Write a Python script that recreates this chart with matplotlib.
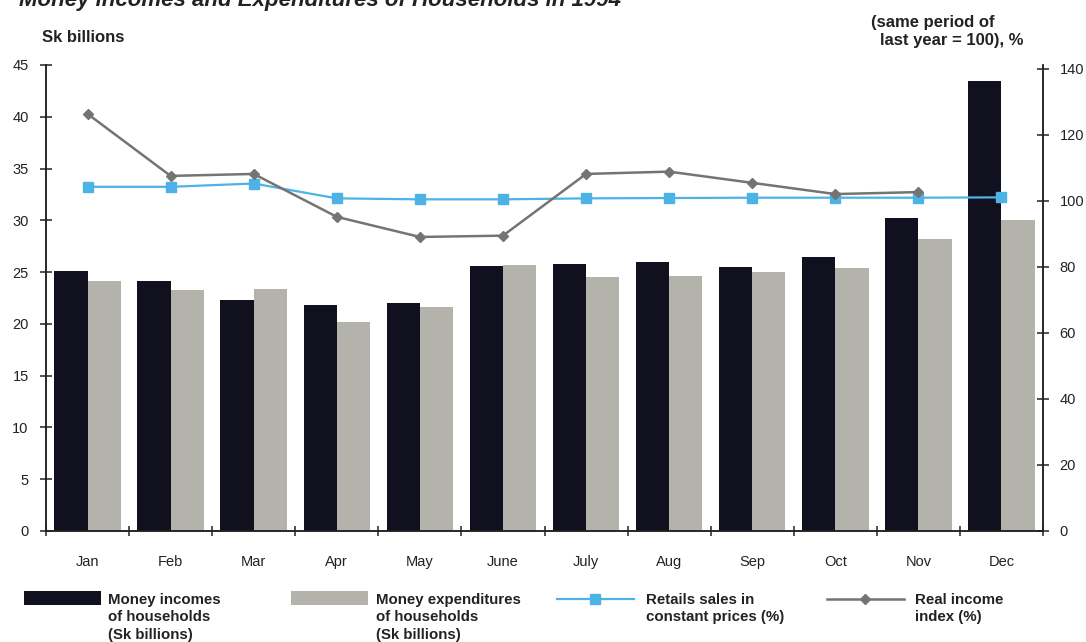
import numpy as np
import matplotlib.pyplot as plt
from matplotlib.patches import Patch, Rectangle
from matplotlib.lines import Line2D
from matplotlib.legend_handler import HandlerPatch

plt.rcParams['font.family'] = ['Liberation Sans', 'DejaVu Sans']

months = ['Jan', 'Feb', 'Mar', 'Apr', 'May', 'June', 'July', 'Aug', 'Sep', 'Oct', 'Nov', 'Dec']
incomes = [25.1, 24.1, 22.3, 21.8, 22.0, 25.6, 25.8, 26.0, 25.5, 26.5, 30.2, 43.5]
expenditures = [24.1, 23.3, 23.4, 20.2, 21.6, 25.7, 24.5, 24.6, 25.0, 25.4, 28.2, 30.0]
retail_sales = [104.3, 104.3, 105.3, 100.8, 100.5, 100.5, 100.8, 100.9, 101.0, 101.0, 101.0, 101.1]
real_income = [126.4, 107.6, 108.2, 95.2, 89.1, 89.5, 108.2, 108.9, 105.5, 102.1, 102.7]

dark = '#10101e'
grey = '#b3b3ab'
blue = '#4db3e6'
lgrey = '#747470'
ink = '#222222'

W, H = 1086, 642
fig = plt.figure(figsize=(W / 100, H / 100), dpi=100)
ax = fig.add_axes([46 / W, 1 - 531 / H, (1043 - 46) / W, (531 - 65) / H])
ax2 = ax.twinx()

x = np.arange(len(months))
ax.bar(x - 0.2, incomes, 0.4, color=dark)
ax.bar(x + 0.2, expenditures, 0.4, color=grey)
ax.set_xlim(-0.5, 11.5)
ax.set_ylim(0, 45)
ax.set_yticks(range(0, 46, 5))

ax2.plot(x, retail_sales, color=blue, marker='s', ms=6.5, lw=1.6)
ax2.plot(x[:len(real_income)], real_income, color=lgrey, marker='D', ms=5, lw=1.8)
ax2.set_ylim(0, 140 * 466 / 462)
ax2.set_yticks(range(0, 141, 20))

for a in (ax, ax2):
    a.spines['top'].set_visible(False)
    for s in ('left', 'right', 'bottom'):
        a.spines[s].set_color(ink)
        a.spines[s].set_linewidth(1.1)

ax.set_xticks(np.arange(-0.5, 12, 1))
ax.set_xticklabels([])
ax.set_xticks(x, labels=months, minor=True)
ax.tick_params(axis='x', which='major', direction='inout', length=7, width=1.1, color=ink)
ax.tick_params(axis='x', which='minor', length=0, pad=17, labelsize=10.5, labelcolor=ink)
ax.tick_params(axis='y', direction='inout', length=9, width=1.1, color=ink, pad=8,
               labelsize=10.5, labelcolor=ink)
ax2.tick_params(axis='y', direction='inout', length=8, width=1.1, color=ink, pad=8,
                labelsize=10.5, labelcolor=ink)

fig.text(19 / W, 1 - 6 / H, 'Money incomes and Expenditures of Households in 1994',
         fontsize=16, weight='bold', style='italic', va='baseline', color=ink)
fig.text(42 / W, 1 - 42 / H, 'Sk billions', fontsize=12, weight='bold', va='baseline', color=ink)
fig.text(871 / W, 1 - 27 / H, '(same period of', fontsize=12, weight='bold', va='baseline', color=ink)
fig.text(880 / W, 1 - 45 / H, 'last year = 100), %', fontsize=12, weight='bold', va='baseline', color=ink)


def top_patch(legend, orig_handle, xdescent, ydescent, width, height, fontsize):
    # patch sits slightly above the first text line, as in the original
    return Rectangle((-xdescent, -ydescent + height - 8.4), width, 9.6)


entries = [
    (Patch(facecolor=dark), 'Money incomes\nof households\n(Sk billions)', 24, 0.47, 0.8),
    (Patch(facecolor=grey), 'Money expenditures\nof households\n(Sk billions)', 291, 0.53, 0.8),
    (Line2D([], [], color=blue, marker='s', ms=6.5, lw=1.6), 'Retails sales in\nconstant prices (%)', 557, 0.8, 0.88),
    (Line2D([], [], color=lgrey, marker='D', ms=5, lw=1.8), 'Real income\nindex (%)', 827, 0.73, 0.88),
]
for handle, label, xpos, hpad, hh in entries:
    leg = fig.legend([handle], [label], loc='upper left', bbox_to_anchor=(xpos / W, 1 - 593 / H),
                     frameon=False, borderpad=0, borderaxespad=0, handlelength=5.13,
                     handletextpad=hpad, handleheight=hh, numpoints=1,
                     handler_map={Patch: HandlerPatch(patch_func=top_patch)},
                     prop={'weight': 'bold', 'size': 10.8})
    for t in leg.get_texts():
        t.set_linespacing(1.3)
        t.set_color(ink)
    for col in leg._legend_handle_box.get_children():
        for item in col.get_children():
            item.align = 'top'

fig.savefig('out.png', dpi=100)
